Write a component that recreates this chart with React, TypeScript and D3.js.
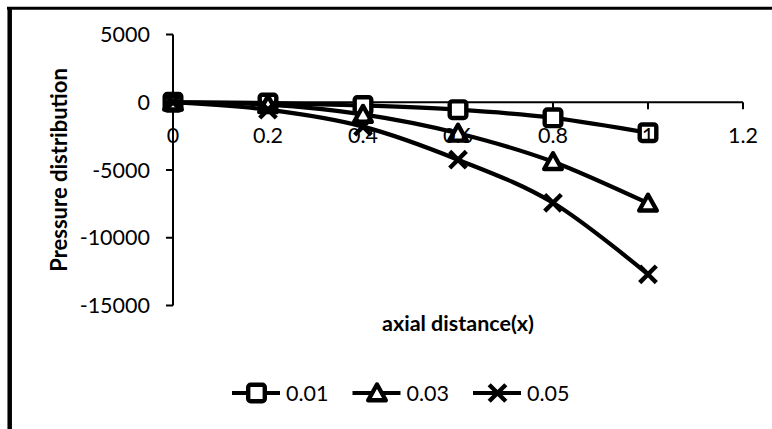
import React from "react";
import * as d3 from "d3";

const xValues = [0, 0.2, 0.4, 0.6, 0.8, 1.0];
const series001 = [0, -60, -240, -550, -1150, -2250];
const series003 = [0, -180, -900, -2290, -4390, -7450];
const series005 = [0, -550, -1800, -4240, -7420, -12700];
const seriesNames = ["0.01", "0.03", "0.05"];
const xTicks = [0, 0.2, 0.4, 0.6, 0.8, 1, 1.2];
const yTicks = [5000, 0, -5000, -10000, -15000];

const W = 772;
const H = 429;
const FONT = "Lato, 'Open Sans', sans-serif";

const x = d3.scaleLinear().domain([0, 1.2]).range([173, 743]);
const y = d3.scaleLinear().domain([-15000, 5000]).range([305.5, 34.5]);

type MarkerKind = "square" | "triangle" | "cross";

function Marker({ kind, cx, cy }: { kind: MarkerKind; cx: number; cy: number }) {
  if (kind === "square") {
    return (
      <rect x={cx - 8.3} y={cy - 8.3} width={16.6} height={16.6} rx={2.5} fill="#fff" stroke="#000" strokeWidth={4.4} />
    );
  }
  if (kind === "triangle") {
    const p = `M${cx},${cy - 8.5} L${cx + 8.8},${cy + 7.3} L${cx - 8.8},${cy + 7.3} Z`;
    return <path d={p} fill="#fff" stroke="#000" strokeWidth={4.4} strokeLinejoin="round" />;
  }
  return (
    <g stroke="#000" strokeWidth={4.4}>
      <line x1={cx - 8.3} y1={cy - 8.3} x2={cx + 8.3} y2={cy + 8.3} />
      <line x1={cx - 8.3} y1={cy + 8.3} x2={cx + 8.3} y2={cy - 8.3} />
    </g>
  );
}

export default function App() {
  const allSeries: { name: string; values: number[]; kind: MarkerKind }[] = [
    { name: seriesNames[0], values: series001, kind: "square" },
    { name: seriesNames[1], values: series003, kind: "triangle" },
    { name: seriesNames[2], values: series005, kind: "cross" },
  ];
  const line = d3
    .line<[number, number]>()
    .x((d) => x(d[0]))
    .y((d) => y(d[1]))
    .curve(d3.curveCardinal.tension(0));

  const y0 = y(0);
  const legendX0 = 232;
  const legendStep = 120.5;
  const legendY = 393;

  return (
    <svg
      width={W}
      height={H}
      style={{ position: "fixed", left: 0, top: 0, background: "#fff" }}
      fontFamily={FONT}
    >
      <rect x={0} y={0} width={W} height={H} fill="#fff" />
      {/* outer border */}
      <line x1={7} y1={8.2} x2={W} y2={8.2} stroke="#000" strokeWidth={3} />
      <line x1={9.7} y1={7} x2={9.7} y2={H} stroke="#000" strokeWidth={4.5} />

      {/* y axis */}
      <line x1={x(0)} y1={y(5000)} x2={x(0)} y2={y(-15000)} stroke="#000" strokeWidth={2} />
      {yTicks.map((t) => (
        <g key={"yt" + t}>
          <line x1={x(0) - 7} y1={y(t)} x2={x(0)} y2={y(t)} stroke="#000" strokeWidth={2} />
          <text x={150} y={y(t)} dy="0.36em" textAnchor="end" fontSize={21.5} fill="#000">
            {t}
          </text>
        </g>
      ))}

      {/* x axis */}
      <line x1={x(0)} y1={y0} x2={x(1.2)} y2={y0} stroke="#000" strokeWidth={2} />
      {xTicks.map((t) => (
        <line key={"xt" + t} x1={x(t)} y1={y0} x2={x(t)} y2={y0 + 7} stroke="#000" strokeWidth={2} />
      ))}

      {/* series */}
      {allSeries.map((s) => {
        const pts: [number, number][] = xValues.map((xv, i) => [xv, s.values[i]]);
        return (
          <g key={s.name}>
            <path d={line(pts) || ""} fill="none" stroke="#000" strokeWidth={4.2} />
            {pts.map((p, i) => (
              <Marker key={i} kind={s.kind} cx={x(p[0])} cy={y(p[1])} />
            ))}
          </g>
        );
      })}

      {/* x tick labels (drawn over markers) */}
      {xTicks.map((t) => (
        <text key={"xl" + t} x={x(t)} y={143} textAnchor="middle" fontSize={21.5} fill="#000">
          {String(t)}
        </text>
      ))}

      {/* axis titles */}
      <text
        transform={`translate(66.5, ${(y(5000) + y(-15000)) / 2}) rotate(-90)`}
        textAnchor="middle"
        fontSize={22}
        fontWeight="bold"
        fill="#000"
      >
        Pressure distribution
      </text>
      <text x={(x(0) + x(1.2)) / 2} y={331} textAnchor="middle" fontSize={21.5} fontWeight="bold" fill="#000">
        axial distance(x)
      </text>

      {/* legend */}
      {allSeries.map((s, i) => {
        const lx = legendX0 + i * legendStep;
        return (
          <g key={"lg" + s.name}>
            <line x1={lx} y1={legendY} x2={lx + 48} y2={legendY} stroke="#000" strokeWidth={4.2} />
            <Marker kind={s.kind} cx={lx + 24.5} cy={legendY} />
            <text x={lx + 54} y={legendY} dy="0.36em" fontSize={21.5} fill="#000">
              {s.name}
            </text>
          </g>
        );
      })}
    </svg>
  );
}
